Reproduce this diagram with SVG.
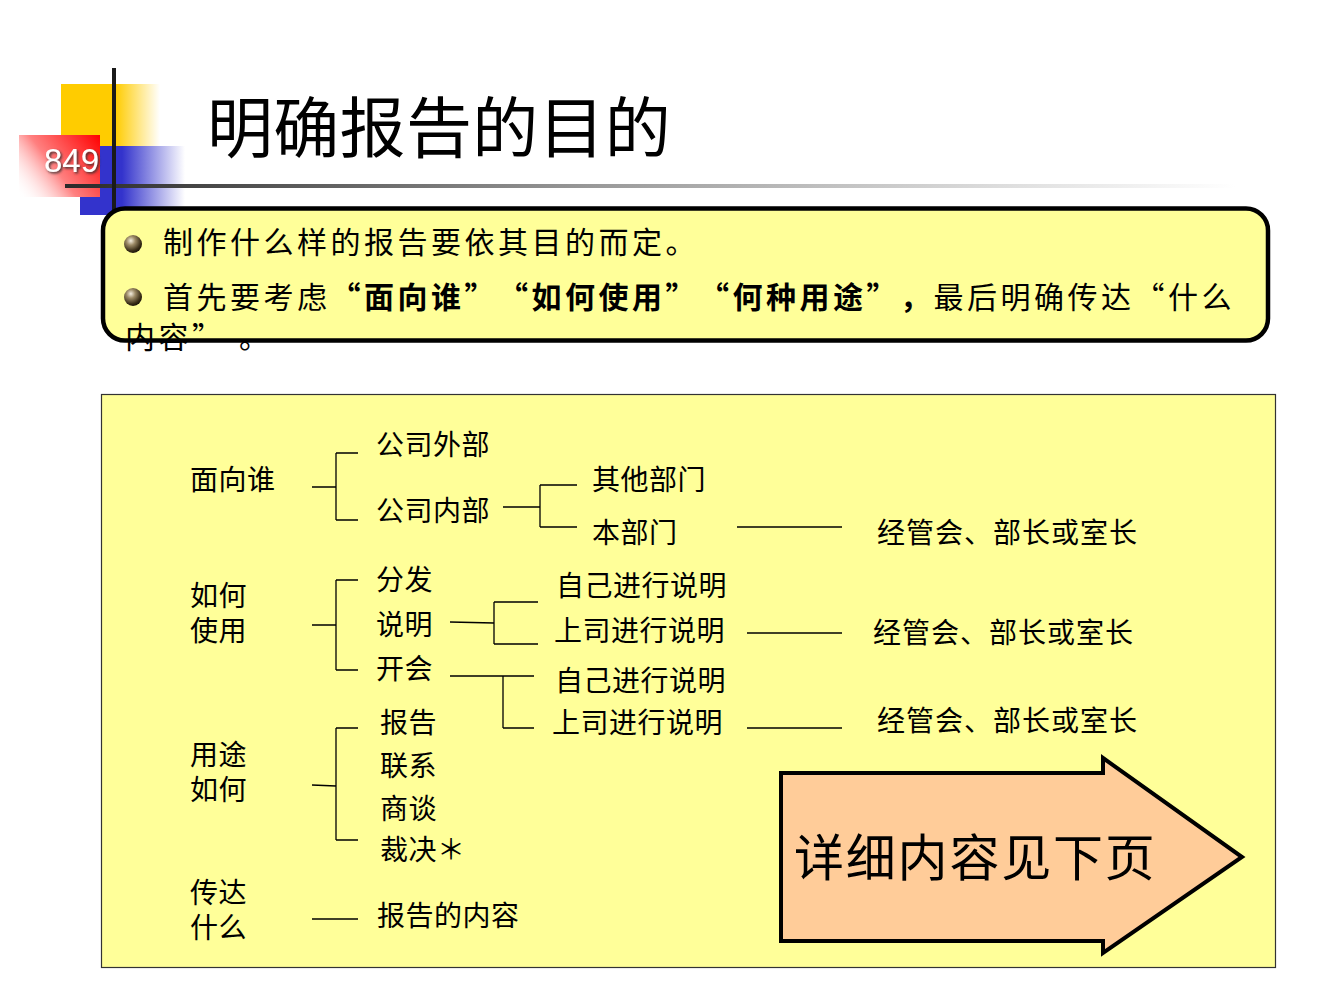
<svg xmlns="http://www.w3.org/2000/svg" width="1344" height="1008" viewBox="0 0 1344 1008">
  <defs>
    <linearGradient id="gYellow" x1="61" y1="0" x2="160" y2="0" gradientUnits="userSpaceOnUse">
      <stop offset="0" stop-color="#FFCC00"/>
      <stop offset="0.55" stop-color="#FFCC00"/>
      <stop offset="1" stop-color="#FFCC00" stop-opacity="0"/>
    </linearGradient>
    <linearGradient id="gBlue" x1="80" y1="0" x2="185" y2="0" gradientUnits="userSpaceOnUse">
      <stop offset="0" stop-color="#3333CC"/>
      <stop offset="0.4" stop-color="#3333CC"/>
      <stop offset="1" stop-color="#3333CC" stop-opacity="0"/>
    </linearGradient>
    <linearGradient id="gRed" x1="100" y1="135" x2="19" y2="197" gradientUnits="userSpaceOnUse">
      <stop offset="0" stop-color="#FF0000"/>
      <stop offset="0.55" stop-color="#FF8080"/>
      <stop offset="1" stop-color="#FFFFFF" stop-opacity="0"/>
    </linearGradient>
    <linearGradient id="gRule" x1="65" y1="0" x2="1235" y2="0" gradientUnits="userSpaceOnUse">
      <stop offset="0" stop-color="#2a2a2a"/>
      <stop offset="0.45" stop-color="#999999"/>
      <stop offset="0.8" stop-color="#dddddd"/>
      <stop offset="1" stop-color="#ffffff"/>
    </linearGradient>
    <radialGradient id="gBall" cx="0.38" cy="0.32" r="0.7">
      <stop offset="0" stop-color="#f4eee0"/>
      <stop offset="0.35" stop-color="#9c8a66"/>
      <stop offset="0.8" stop-color="#3a2e18"/>
      <stop offset="1" stop-color="#1a1408"/>
    </radialGradient>
    <filter id="shadow" x="-20%" y="-20%" width="140%" height="140%">
      <feDropShadow dx="1.5" dy="1.5" stdDeviation="0.8" flood-color="#333333" flood-opacity="0.9"/>
    </filter>
  </defs>
  <style>
    text { font-family: "Noto Sans CJK SC", "Noto Sans", sans-serif; fill: #000; text-spacing-trim: space-all; }
    .t { font-size: 28px; letter-spacing: 0.5px; }
    .r { font-size: 28px; letter-spacing: 1px; }
    .b { font-size: 30px; letter-spacing: 3.5px; }
    .bold { font-weight: bold; }
    .ln { stroke: #000; stroke-width: 1.3; fill: none; }
  </style>

  <rect width="1344" height="1008" fill="#ffffff"/>

  <g id="logo">
    <rect x="61" y="84" width="99" height="62" fill="url(#gYellow)"/>
    <rect x="80" y="146" width="105" height="69" fill="url(#gBlue)"/>
    <rect x="19" y="135" width="81" height="62" fill="url(#gRed)"/>
    <text x="44" y="172" style="font-family:'Liberation Sans',Arial,sans-serif;font-size:33px;fill:#ffffff" filter="url(#shadow)">849</text>
    <rect x="65" y="184" width="1170" height="4" fill="url(#gRule)"/>
    <rect x="112" y="68" width="4" height="142" fill="#1a1a1a"/>
  </g>

  <g id="title">
    <text x="207" y="152" style="font-size:66px;letter-spacing:0.3px">明确报告的目的</text>
  </g>

  <g id="bullet-box">
    <rect x="103" y="208.5" width="1165" height="132" rx="22" ry="22" fill="#FFFF99" stroke="#000" stroke-width="4.5"/>
    <circle cx="133" cy="244" r="9" fill="url(#gBall)"/>
    <circle cx="133" cy="297" r="9" fill="url(#gBall)"/>
    <text class="b" x="163" y="253">制作什么样的报告要依其目的而定。</text>
    <text class="b" x="163" y="308">首先要考虑<tspan class="bold" x="330.5">“面向谁”</tspan><tspan class="bold" x="498">“如何使用”</tspan><tspan class="bold" x="699">“何种用途”，</tspan><tspan x="933.5">最后明确传达“什么</tspan></text>
    <text class="b" x="125" y="348">内容”<tspan x="239">。</tspan></text>
  </g>

  <g id="panel">
    <rect x="101.5" y="394.5" width="1174" height="573" fill="#FFFF99" stroke="#333" stroke-width="1.2"/>
  </g>

  <g id="connectors">
    <path class="ln" d="M312,487 H336 M336,453 V520 M336,453 H358 M336,520 H358"/>
    <path class="ln" d="M503,507 H540 M540,485 V527 M540,485 H577 M540,527 H577"/>
    <path class="ln" d="M737,527 H842"/>
    <path class="ln" d="M312,625 H336 M336,580 V670 M336,580 H358 M336,670 H358"/>
    <path class="ln" d="M450,622 L494,623 M494,602 V644 M494,602 H538 M494,644 H538"/>
    <path class="ln" d="M450,676 H534 M503,676 V728 M503,728 H534"/>
    <path class="ln" d="M747,633 H842"/>
    <path class="ln" d="M747,728 H842"/>
    <path class="ln" d="M312,785 L336,786 M336,728 V840 M336,728 H358 M336,840 H358"/>
    <path class="ln" d="M312,919 H358"/>
  </g>

  <g id="node-mianxiangshui"><text class="t" x="190" y="490">面向谁</text></g>
  <g id="node-gongsiwaibu"><text class="t" x="376" y="455">公司外部</text></g>
  <g id="node-gongsineibu"><text class="t" x="376" y="521">公司内部</text></g>
  <g id="node-qitabumen"><text class="t" x="592" y="490">其他部门</text></g>
  <g id="node-benbumen"><text class="t" x="592" y="543">本部门</text></g>
  <g id="node-jingguan1"><text class="r" x="877" y="543">经管会、部长或室长</text></g>

  <g id="node-ruheshiyong"><text class="t"><tspan x="190" y="606">如何</tspan><tspan x="190" y="641">使用</tspan></text></g>
  <g id="node-fenfa"><text class="t" x="376" y="590">分发</text></g>
  <g id="node-shuoming"><text class="t" x="376" y="635">说明</text></g>
  <g id="node-kaihui"><text class="t" x="376" y="679">开会</text></g>
  <g id="node-ziji1"><text class="t" x="556" y="596">自己进行说明</text></g>
  <g id="node-shangsi1"><text class="t" x="554" y="641">上司进行说明</text></g>
  <g id="node-jingguan2"><text class="r" x="873" y="643">经管会、部长或室长</text></g>
  <g id="node-ziji2"><text class="t" x="555" y="691">自己进行说明</text></g>
  <g id="node-shangsi2"><text class="t" x="552" y="733">上司进行说明</text></g>
  <g id="node-jingguan3"><text class="r" x="877" y="731">经管会、部长或室长</text></g>

  <g id="node-yongturuhe"><text class="t"><tspan x="190" y="765">用途</tspan><tspan x="190" y="800">如何</tspan></text></g>
  <g id="node-baogao"><text class="t" x="380" y="733">报告</text></g>
  <g id="node-lianxi"><text class="t" x="380" y="776">联系</text></g>
  <g id="node-shangtan"><text class="t" x="380" y="819">商谈</text></g>
  <g id="node-caijue"><text class="t" x="380" y="860">裁决＊</text></g>

  <g id="node-chuandashenme"><text class="t"><tspan x="190" y="903">传达</tspan><tspan x="190" y="938">什么</tspan></text></g>
  <g id="node-baogaoneirong"><text class="t" x="377" y="926">报告的内容</text></g>

  <g id="node-arrow">
    <polygon points="781,773 1103,773 1103,758 1242,857 1103,953 1103,941 781,941" fill="#FFCC99" stroke="#000" stroke-width="4" stroke-linejoin="miter"/>
    <text x="794" y="876" style="font-size:50px;letter-spacing:1.8px">详细内容见下页</text>
  </g>
</svg>
